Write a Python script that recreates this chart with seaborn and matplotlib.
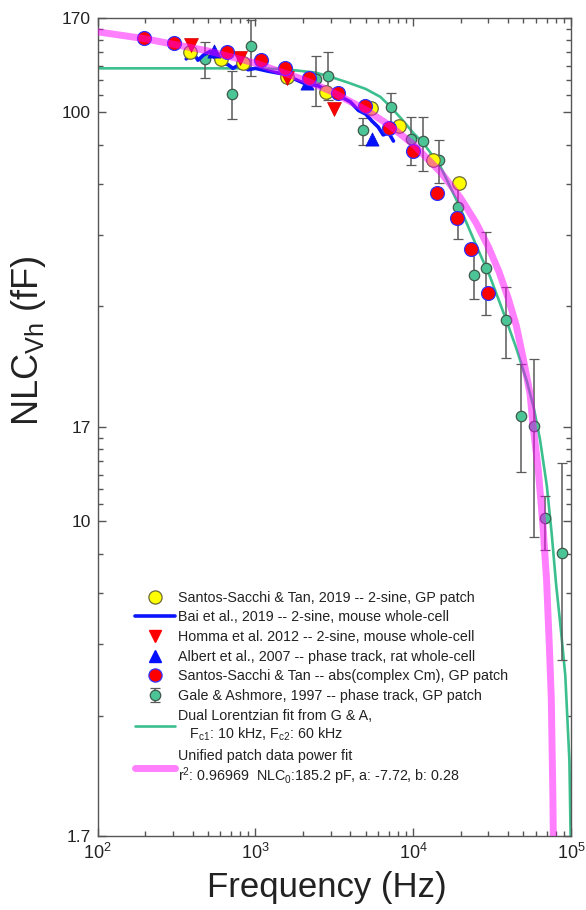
import matplotlib
matplotlib.use("Agg")
import matplotlib.pyplot as plt
import seaborn as sns
from matplotlib.lines import Line2D
from matplotlib.ticker import FixedLocator, FixedFormatter, LogLocator, NullFormatter

# Santos-Sacchi & Tan, 2019 -- 2-sine, GP patch (yellow circles)
sst_freq = [384, 610, 839, 1582, 2806, 5380, 8170, 13300, 19540]
sst_nlc = [140.6, 134.7, 131.8, 122.2, 112.3, 102.6, 92.7, 76.4, 67.3]

# Bai et al., 2019 -- 2-sine, mouse whole-cell (blue trace)
bai_freq = [365, 400, 433, 470, 520, 580, 671, 721, 800, 900, 1000, 1200, 1500,
            2000, 2500, 3000, 3500, 4000, 4500, 5000, 5500, 6000, 6456, 7000, 7500]
bai_nlc = [135, 140.6, 134, 138, 141, 132.4, 130.7, 128, 131, 127, 128, 126, 124,
           118, 116, 112, 109, 106, 101, 99, 95, 92, 88, 89, 85]

# Homma et al. 2012 -- 2-sine, mouse whole-cell (red down triangles)
homma_freq = [393, 796, 1590, 3160]
homma_nlc = [146, 135.5, 121, 101.8]

# Albert et al., 2007 -- phase track, rat whole-cell (blue up triangles)
albert_freq = [545, 2120, 5460]
albert_nlc = [141.4, 117.7, 86]

# Santos-Sacchi & Tan -- abs(complex Cm), GP patch (red circles)
abs_freq = [197, 305, 665, 1081, 1542, 2200, 3327, 4955, 7030, 10030, 14130,
            19060, 23200, 29700]
abs_nlc = [151.7, 148, 140, 134.2, 128, 121, 111.3, 103.8, 91.4, 80.5, 63.3,
           55.2, 46.3, 36.1]

# Gale & Ashmore, 1997 -- phase track, GP patch (green, with error bars)
ga_freq = [477, 715, 944, 2426, 2905, 4800, 7245, 9700, 11600, 14660, 19200,
           24430, 28970, 38800, 48500, 58100, 68200, 87700]
ga_nlc = [134.7, 111, 145, 120.4, 122.8, 90.5, 102.9, 86, 84.8, 76.3, 58.5,
          39.9, 41.6, 31.1, 18.1, 17.07, 10.2, 8.37]
ga_lo = [121, 96, 122.7, 103.5, 107, 83, 90.5, 74.3, 72, 67, 49,
         35, 32, 25, 13.2, 9.17, 8.5, 4.57]
ga_hi = [148.4, 126.3, 168, 137, 140.6, 97, 111.4, 97.5, 97.5, 85.7, 67,
         45.4, 51, 37.3, 24.3, 24.9, 11.5, 13.9]

# Dual Lorentzian fit from G & A (green curve)
lor_freq = [100, 500, 1000, 1500, 2400, 3000, 3900, 5000, 6200, 7200, 8500,
            10000, 11600, 14800, 19400, 25300, 30700, 38800, 45000, 52500,
            58000, 63700, 70300, 75500, 80500, 86000, 92000, 97700, 100000]
lor_nlc = [128, 128, 128, 127.5, 125, 122, 118, 114, 109, 103, 96,
           89, 84, 74, 59.5, 46.9, 39.6, 31.1, 26.5, 22.0,
           19, 15.8, 12.2, 9.3, 7.0, 5.5, 4.2, 2.6, 1.5]

# Unified patch data power fit (magenta curve)
pow_freq = [100, 200, 500, 1000, 2000, 3000, 5000, 7000, 10000, 15000, 20000,
            25000, 30000, 35000, 40000, 45000, 50000, 55000, 57500, 62000, 66500,
            70000, 73000, 75000, 76000, 76800, 77500]
pow_nlc = [157.2, 151.2, 141.2, 131.8, 120.3, 112.6, 101.4, 93.1, 83.5, 71.2, 61.6,
           53.7, 46.8, 40.7, 35.1, 30.1, 24.8, 20.5, 17.1, 13.4, 9.7,
           7.2, 4.9, 3.7, 2.7, 2.1, 1.5]

# axis ticks
x_major = [1e2, 1e3, 1e4, 1e5]
y_major = [1.7, 10, 17, 100, 170]
y_major_labels = ["1.7", "10", "17", "100", "170"]
y_minor = [3.35, 5, 6.67, 8.33, 11, 12, 13, 14, 15, 16,
           33.5, 50, 66.7, 83.3, 110, 120, 130, 140, 150, 160]

sns.set_theme(style="ticks")
plt.rcParams["font.family"] = ["Liberation Sans", "DejaVu Sans"]
plt.rcParams["mathtext.default"] = "regular"

fig = plt.figure(figsize=(5.86, 9.10), dpi=100)
ax = fig.add_axes([0.1664, 0.0813, 0.808, 0.899])

green = "#3cbf8e"
pink = "#ff00ff"

# fit curves and data
sns.lineplot(x=lor_freq, y=lor_nlc, ax=ax, color=green, lw=1.9, sort=False,
             estimator=None, zorder=2)
eb = ax.errorbar(ga_freq, ga_nlc,
                 yerr=[[m - l for m, l in zip(ga_nlc, ga_lo)],
                       [h - m for m, h in zip(ga_nlc, ga_hi)]],
                 fmt="o", color="#5a5a5a", ecolor="#5a5a5a", elinewidth=1.1,
                 capsize=3.5, capthick=1.1, markersize=7.5,
                 markerfacecolor="#4cc596", markeredgecolor="#3d5a4c",
                 markeredgewidth=0.9, zorder=3)
sns.lineplot(x=bai_freq, y=bai_nlc, ax=ax, color="#0a14ff", lw=2.6, sort=False,
             estimator=None, zorder=4)
sns.scatterplot(x=sst_freq, y=sst_nlc, ax=ax, marker="o", s=95, color="#ffff00",
                edgecolor="#6b6b3a", linewidth=0.9, zorder=5)
sns.scatterplot(x=homma_freq, y=homma_nlc, ax=ax, marker="v", s=100, color="#ff0000",
                edgecolor="#d00000", linewidth=0.5, zorder=5)
sns.scatterplot(x=albert_freq, y=albert_nlc, ax=ax, marker="^", s=90, color="#0010ff",
                edgecolor="#0010cc", linewidth=0.5, zorder=5)
sns.scatterplot(x=abs_freq, y=abs_nlc, ax=ax, marker="o", s=100, color="#ff0000",
                edgecolor="#3030ff", linewidth=0.9, zorder=6)
sns.lineplot(x=pow_freq, y=pow_nlc, ax=ax, color=pink, alpha=0.5, lw=5,
             sort=False, estimator=None, zorder=7)

ax.set_xscale("log")
ax.set_yscale("log")
ax.set_xlim(100, 1e5)
ax.set_ylim(1.7, 170)

ax.xaxis.set_major_locator(FixedLocator(x_major))
ax.xaxis.set_minor_locator(LogLocator(base=10, subs=range(2, 10), numticks=20))
ax.xaxis.set_minor_formatter(NullFormatter())
ax.yaxis.set_major_locator(FixedLocator(y_major))
ax.yaxis.set_major_formatter(FixedFormatter(y_major_labels))
ax.yaxis.set_minor_locator(FixedLocator(y_minor))
ax.yaxis.set_minor_formatter(NullFormatter())

ax.tick_params(which="both", direction="in", top=True, right=True, color="#555555",
               width=1)
ax.tick_params(which="major", length=6)
ax.tick_params(which="minor", length=3.5)
ax.tick_params(axis="x", labelsize=13, pad=5, labelcolor="#222222")
ax.tick_params(axis="y", labelsize=12.5, pad=5, labelcolor="#222222")
for sp in ax.spines.values():
    sp.set_color("#555555")
    sp.set_linewidth(1)

ax.set_xlabel("Frequency (Hz)", fontsize=25, color="#222222", labelpad=4)
ax.xaxis.set_label_coords(0.485, -0.043)
ax.xaxis.label.set_verticalalignment("top")
ax.set_ylabel("NLC$_{Vh}$ (fF)", fontsize=26, color="#222222")
ax.yaxis.set_label_coords(-0.105, 0.606)

handles = [
    Line2D([], [], ls="none", marker="o", markersize=9.5, markerfacecolor="#ffff00",
           markeredgecolor="#6b6b3a", markeredgewidth=0.9),
    Line2D([], [], color="#0a14ff", lw=2.6),
    Line2D([], [], ls="none", marker="v", markersize=9, color="#ff0000"),
    Line2D([], [], ls="none", marker="^", markersize=8.5, color="#0010ff"),
    Line2D([], [], ls="none", marker="o", markersize=9.5, markerfacecolor="#ff0000",
           markeredgecolor="#3030ff", markeredgewidth=0.9),
    eb,
    Line2D([], [], color=green, lw=1.9),
    Line2D([], [], color=pink, alpha=0.5, lw=5),
]
labels = [
    "Santos-Sacchi & Tan, 2019 -- 2-sine, GP patch",
    "Bai et al., 2019 -- 2-sine, mouse whole-cell",
    "Homma et al. 2012 -- 2-sine, mouse whole-cell",
    "Albert et al., 2007 -- phase track, rat whole-cell",
    "Santos-Sacchi & Tan -- abs(complex Cm), GP patch",
    "Gale & Ashmore, 1997 -- phase track, GP patch",
    "Dual Lorentzian fit from G & A,\n   F$_{c1}$: 10 kHz, F$_{c2}$: 60 kHz",
    "Unified patch data power fit\nr$^2$: 0.96969  NLC$_0$:185.2 pF, a: -7.72, b: 0.28",
]
leg = ax.legend(handles, labels, loc="upper left", bbox_to_anchor=(0.068, 0.307),
                frameon=False, fontsize=10.3, handlelength=2.8, handletextpad=0.15,
                labelspacing=0.4, borderaxespad=0)
for t in leg.get_texts():
    t.set_color("#222222")

fig.savefig("out.png", dpi=100)
